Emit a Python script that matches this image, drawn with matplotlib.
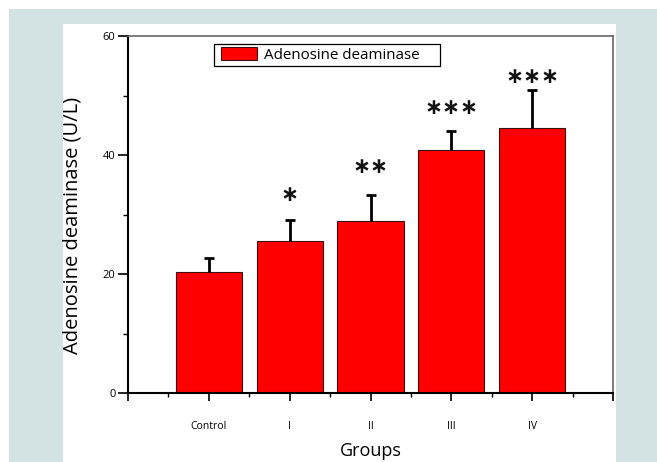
"""Adenosine deaminase levels per group, bar chart with upward SD bars."""

import matplotlib

matplotlib.use("Agg")
import matplotlib.pyplot as plt  # noqa: E402
from matplotlib.patches import Rectangle  # noqa: E402
from matplotlib.ticker import MultipleLocator  # noqa: E402

groups = ["Control", "I", "II", "III", "IV"]
ada_mean = [20.3, 25.6, 28.9, 40.9, 44.6]
ada_sd = [2.4, 3.5, 4.4, 3.2, 6.3]
sig_marks = ["", "\u2217", "\u2217\u2217", "\u2217\u2217\u2217", "\u2217\u2217\u2217"]
sig_level = [None, 32.8, 37.6, 47.4, 52.6]

plt.rcParams["font.family"] = ["Open Sans", "DejaVu Sans"]

W, H = 657, 462
fig = plt.figure(figsize=(W / 100, H / 100), dpi=100, facecolor="white")

# framed page background: white strip, teal band, white panel
fig.patches.append(Rectangle((9 / W, 0), 1 - 9 / W, (H - 9) / H,
                             transform=fig.transFigure, facecolor="#d3e2e2",
                             edgecolor="none", zorder=-2))
fig.patches.append(Rectangle((63 / W, 0), (616 - 63) / W, (H - 24) / H,
                             transform=fig.transFigure, facecolor="white",
                             edgecolor="none", zorder=-1))

ax = fig.add_axes([128 / W, (H - 393) / H, (613 - 128) / W, (393 - 36) / H])
ax.patch.set_alpha(0)

x = list(range(1, len(groups) + 1))
ax.bar(x, ada_mean, width=0.82, color="#ff0000", edgecolor="#3a1010",
       linewidth=0.8, label="Adenosine deaminase", zorder=2)
eb = ax.errorbar(x, ada_mean, yerr=[[0] * len(x), ada_sd], fmt="none",
                 ecolor="black", elinewidth=2, capsize=3.6, capthick=2, zorder=3)
eb[1][0].set_visible(False)

for xi, mark, lvl in zip(x, sig_marks, sig_level):
    if mark:
        ax.annotate(mark, xy=(xi, lvl), xytext=(0, 2), textcoords="offset points",
                    ha="center", va="center", fontsize=15.5,
                    family="DejaVu Sans", fontweight="bold", color="#111111",
                    zorder=4)

ax.set_xlim(0, 6)
ax.set_ylim(0, 60)
ax.set_xticks(range(0, 7))
ax.set_xticklabels([""] + groups + [""])
ax.xaxis.set_minor_locator(MultipleLocator(0.5))
ax.yaxis.set_major_locator(MultipleLocator(20))
ax.yaxis.set_minor_locator(MultipleLocator(10))
ax.tick_params(axis="x", which="major", direction="out", length=6, width=1.2,
               pad=14, labelsize=7.5)
ax.tick_params(axis="x", which="minor", direction="out", length=3, width=1)
ax.tick_params(axis="y", which="major", direction="out", length=7, width=1.2,
               pad=2, labelsize=8)
ax.tick_params(axis="y", which="minor", direction="out", length=3.5, width=1)

for side in ("left", "bottom"):
    ax.spines[side].set_linewidth(1.5)
    ax.spines[side].set_color("black")
for side in ("top", "right"):
    ax.spines[side].set_linewidth(1.2)
    ax.spines[side].set_color("#666666")

ax.set_xlabel("Groups", fontsize=13)
ax.xaxis.set_label_coords(0.5, -0.138)
ax.set_ylabel("Adenosine deaminase (U/L)", fontsize=14.5)
ax.yaxis.set_label_coords(-0.093, 0.47)

# legend box drawn by hand so it keeps the wide right margin of the original
ax.add_patch(Rectangle((0.1773, 0.916), 0.466, 0.0616, transform=ax.transAxes,
                       facecolor="white", edgecolor="black", linewidth=0.9,
                       clip_on=False, zorder=4.5))
ax.legend(loc="center left", bbox_to_anchor=(0.1918, 0.9468),
          borderaxespad=0, borderpad=0, frameon=False, fontsize=10.9,
          handlelength=2.4, handleheight=0.95, handletextpad=0.45)

fig.savefig("out.png", dpi=100)
